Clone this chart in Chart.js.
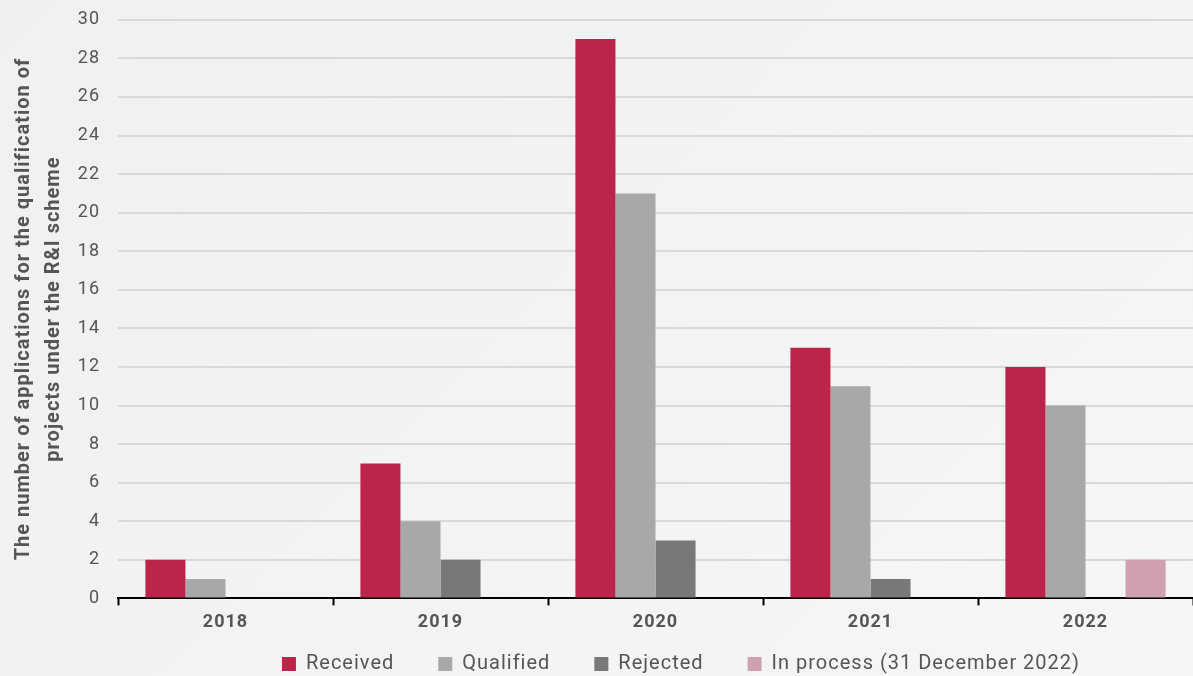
<!DOCTYPE html>
<html>
<head>
<meta charset="utf-8">
<script src="https://cdn.jsdelivr.net/npm/chart.js@4"></script>
<style>
  html, body { margin: 0; padding: 0; }
  body { width: 1193px; height: 676px; background: linear-gradient(135deg, #eef0f2 0%, #f5f6f7 100%); overflow: hidden; }
  #wrap { position: relative; width: 1193px; height: 676px; }
</style>
</head>
<body>
<div id="wrap"><canvas id="chart"></canvas></div>
<script>
// categories and series
var years = ["2018", "2019", "2020", "2021", "2022"];
var received = [2, 7, 29, 13, 12];
var qualified = [1, 4, 21, 11, 10];
var rejected = [0, 2, 3, 1, 0];
var inProcess = [0, 0, 0, 0, 2];
var yTitle = ["The number of applications for the qualification of", "projects under the R&I scheme"];

var TEXT = "#555555";
var FONT = "Roboto, 'DejaVu Sans', sans-serif";
var LEGEND_SHIFT = 29;
var LEGEND_NUDGE = 160;

function series(label, data, color) {
    return {
        label: label,
        data: data,
        backgroundColor: color,
        borderWidth: 0,
        categoryPercentage: 0.745,
        barPercentage: 1.0
    };
}

// wider letter spacing, closer to the original typeface
function spacing(chart) {
    chart.ctx.letterSpacing = "1px";
}

// pull the legend closer to the axis labels while keeping its item spacing
var legendShift = {
    id: "legendShift",
    beforeInit: function (chart) {
        var legend = chart.legend;
        var fit = legend.fit;
        legend.fit = function () {
            fit.call(this);
            this.height -= LEGEND_SHIFT;
        };
    },
    beforeLayout: spacing,
    afterLayout: function (chart) {
        chart.legend.top -= LEGEND_SHIFT;
        chart.legend.height += LEGEND_SHIFT;
        // legend row sits a bit right of the page centre
        chart.legend.left += LEGEND_NUDGE;
        chart.legend.width -= LEGEND_NUDGE;
    },
    beforeDraw: spacing
};

var ctx = document.getElementById("chart").getContext("2d");
new Chart(ctx, {
    type: "bar",
    data: {
        labels: years,
        datasets: [
            series("Received", received, "#bc2549"),
            series("Qualified", qualified, "#a8a8a8"),
            series("Rejected", rejected, "#787878"),
            series("In process (31 December 2022)", inProcess, "#d0a0b1")
        ]
    },
    plugins: [legendShift],
    options: {
        responsive: true,
        maintainAspectRatio: false,
        animation: false,
        layout: { padding: { top: 4, right: 0, bottom: -8, left: 9 } },
        plugins: {
            legend: {
                position: "bottom",
                labels: {
                    font: { family: FONT, size: 20 },
                    color: TEXT,
                    boxWidth: 14,
                    boxHeight: 14,
                    padding: 44
                }
            },
            tooltip: { enabled: false }
        },
        scales: {
            x: {
                offset: true,
                grid: {
                    offset: true,
                    drawOnChartArea: false,
                    drawTicks: true,
                    tickLength: 7,
                    tickColor: "#000000",
                    tickWidth: 2
                },
                border: { display: true, color: "#000000", width: 2 },
                ticks: {
                    font: { family: FONT, size: 18, weight: "bold" },
                    color: TEXT,
                    padding: 6
                }
            },
            y: {
                min: 0,
                max: 30,
                afterFit: function (scale) {
                    scale.width = 109;
                },
                ticks: {
                    stepSize: 2,
                    font: { family: FONT, size: 18 },
                    color: TEXT,
                    padding: 9
                },
                grid: {
                    color: "#d8d9db",
                    lineWidth: 2,
                    drawTicks: true,
                    tickLength: 9,
                    tickColor: "rgba(0,0,0,0)"
                },
                border: { display: false },
                title: {
                    display: true,
                    text: yTitle,
                    font: { family: FONT, size: 20, weight: "bold", lineHeight: 1.5 },
                    color: TEXT,
                    padding: 0
                }
            }
        }
    }
});
</script>
</body>
</html>
